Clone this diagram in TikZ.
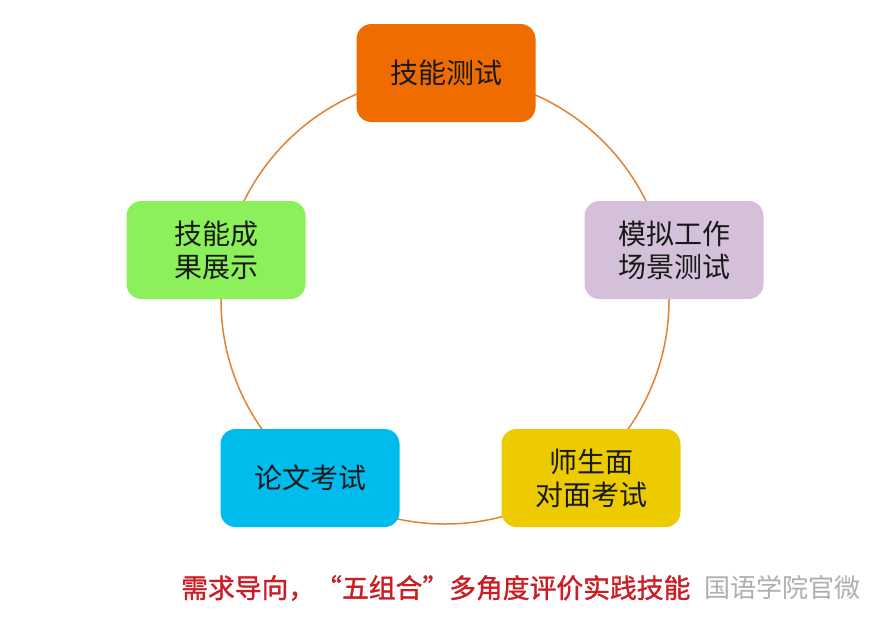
\documentclass[tikz,border=0pt]{standalone}
\usepackage{fontspec}
\setmainfont{Noto Sans CJK SC}
\newfontfamily\cjk{Noto Sans CJK SC}
\newfontfamily\cjkb[FakeBold=1.2]{Noto Sans CJK SC}
\definecolor{cOrange}{RGB}{238,108,0}
\definecolor{cLav}{RGB}{212,192,216}
\definecolor{cGreen}{RGB}{140,240,90}
\definecolor{cCyan}{RGB}{0,188,236}
\definecolor{cGold}{RGB}{236,204,0}
\definecolor{cRing}{RGB}{228,130,50}
\definecolor{cRed}{RGB}{204,28,36}
\definecolor{cWm}{RGB}{175,175,175}
\begin{document}
\begin{tikzpicture}[x=1pt,y=-1pt,
  box/.style={rounded corners=15pt, minimum width=179pt, minimum height=98pt,
    inner sep=0pt, align=center, font=\cjk\fontsize{28}{33}\selectfont, text=black!90},
  ring/.style={draw=cRing, line width=1.5pt}]
\useasboundingbox (0,0) rectangle (890,630);
\fill[white] (0,0) rectangle (890,630);
\coordinate (ctr) at (445,300);
\draw[ring] (ctr) circle[radius=224];
\node[box, fill=cOrange] (n1) at (446,73) {技能测试};
\node[box, fill=cLav] (n2) at (674,250) {模拟工作\\场景测试};
\node[box, fill=cGold] (n3) at (591,478) {师生面\\对面考试};
\node[box, fill=cCyan] (n4) at (310,478) {论文考试};
\node[box, fill=cGreen] (n5) at (216,250) {技能成\\果展示};
\node[anchor=west, text=cRed, inner sep=0pt, font=\cjkb\fontsize{26.8}{30}\selectfont] (cap) at (181,588) {需求导向，“五组合”多角度评价实践技能};
\node[anchor=east, text=cWm, inner sep=0pt, font=\cjk\fontsize{26}{28}\selectfont] (wm) at (861,588) {国语学院官微};
\end{tikzpicture}
\end{document}
